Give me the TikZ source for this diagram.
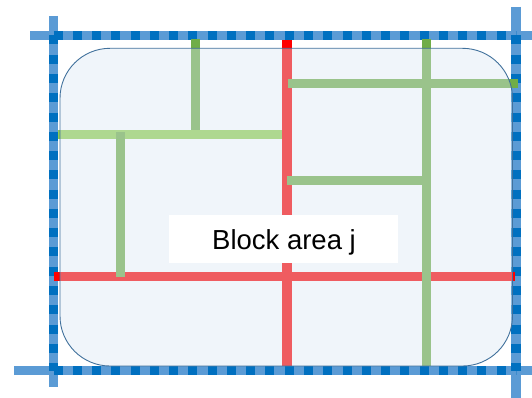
\documentclass[tikz,border=0pt]{standalone}
\usepackage{fontspec}
\setmainfont{Liberation Sans}
\definecolor{bluelight}{HTML}{5B9BD5}
\definecolor{bluedark}{HTML}{0070C0}
\definecolor{redline}{HTML}{FF0000}
\definecolor{greenline}{HTML}{70AD47}
\definecolor{greenlight}{HTML}{92D050}
\definecolor{rectfill}{HTML}{D9E6F2}
\definecolor{rectborder}{HTML}{41719C}
\begin{document}
\begin{tikzpicture}[x=1pt,y=-1pt,
  baseline/.style={draw=bluelight,line width=9.5pt},
  dashline/.style={draw=bluedark,line width=9.5pt,dash pattern=on 9pt off 10.27pt},
  redl/.style={draw=redline,line width=9.5pt},
  greenl/.style={draw=greenline,line width=9pt},
  greenll/.style={draw=greenlight,line width=9pt},
  area/.style={draw=rectborder,line width=0.9pt,fill=rectfill,fill opacity=0.4,rounded corners=50pt},
  label/.style={fill=white,inner sep=0pt,minimum width=229pt,minimum height=48pt}]
\useasboundingbox (0,0) rectangle (532,398);
% corners of the grid
\coordinate (TL) at (53.5,35.5);
\coordinate (TR) at (516,35.5);
\coordinate (BL) at (53.5,370.5);
\coordinate (BR) at (516,370.5);
% light blue base lines
\draw[baseline] (30,35.5) -- (532,35.5);
\draw[baseline] (14,370.5) -- (532,370.5);
\draw[baseline] (53.5,16) -- (53.5,387);
\draw[baseline] (516,7) -- (516,398);
% dark dashes
\draw[dashline] (TL) -- (TR);
\draw[dashline] (BL) -- (BR);
\draw[dashline] (TL) -- (BL);
\draw[dashline] (TR) -- (BR);
% red lines
\draw[redl] (287,40) -- (287,366);
\draw[redl] (54,276.5) -- (515,276.5);
% green lines
\draw[greenl] (195,39) -- (195,134);
\draw[greenll] (58,134.5) -- (282,134.5);
\draw[greenl] (120,132) -- (120,277);
\draw[greenl] (426,39) -- (426,366);
\draw[greenl] (288,84) -- (518,84);
\draw[greenl] (287,180.5) -- (426,180.5);
% block area
\draw[area] (60,48.3) rectangle (512.5,366);
\node[label] (box) at (283.5,239) {};
\node[anchor=base,inner sep=0pt,font=\fontsize{27.5}{33}\selectfont] (lbl) at (284,249) {Block area j};
\end{tikzpicture}
\end{document}
